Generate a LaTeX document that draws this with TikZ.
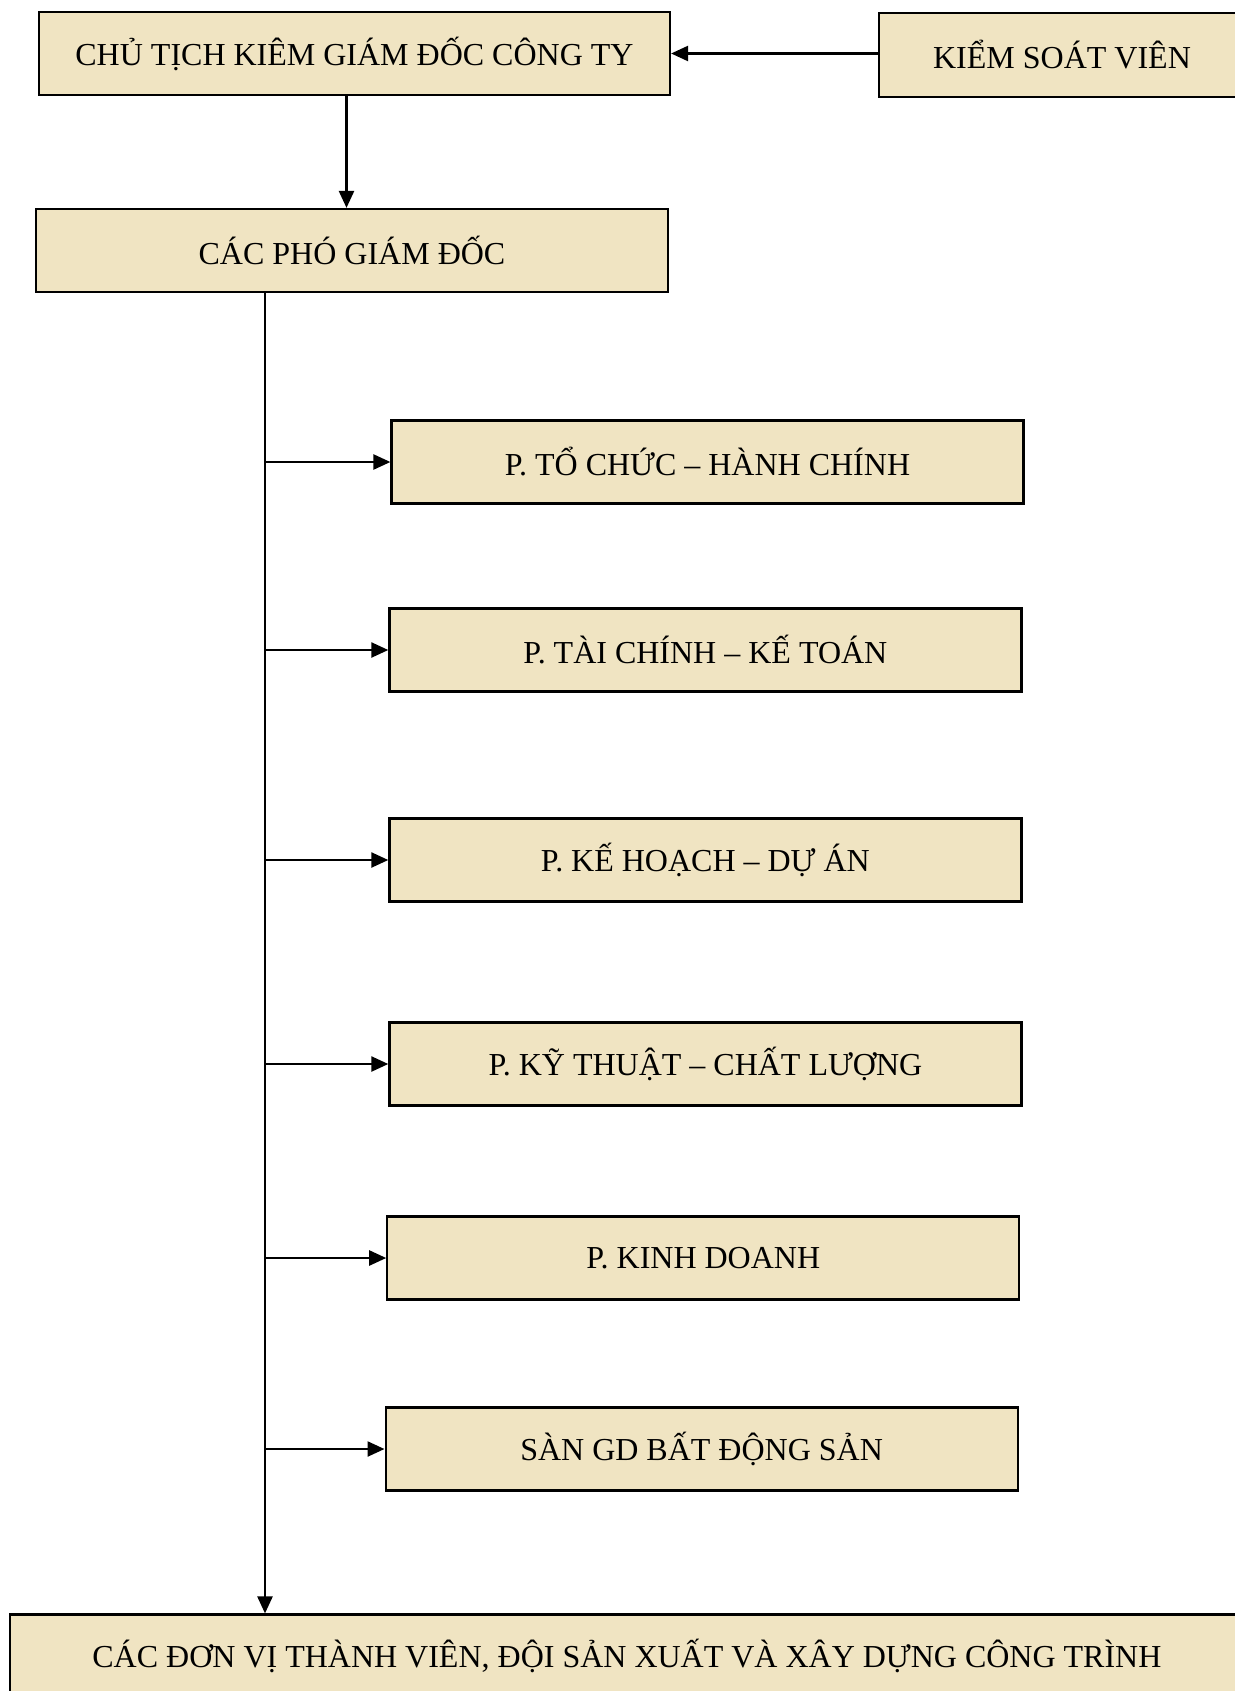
\documentclass[tikz,border=0pt]{standalone}
\usepackage{fontspec}
\setmainfont{Liberation Serif}
\usetikzlibrary{arrows.meta}
\definecolor{parch}{RGB}{240,228,194}
\tikzset{
  orgbox/.style={draw=black, line width=1.1pt, fill=parch, rectangle,
    minimum width=316pt, minimum height=41.5pt, inner sep=0pt,
    font=\fontsize{16}{19}\selectfont},
  link/.style={line width=1.2pt, -{Triangle[length=8.5pt,width=7.5pt]}}
}
\begin{document}
\begin{tikzpicture}[x=0.5pt,y=-0.5pt]
\useasboundingbox (0,0) rectangle (1235,1691);
\clip (0,0) rectangle (1235,1691);
\fill[white] (0,0) rectangle (1235,1691);
\node[orgbox, minimum width=315.5pt] (ct) at (354.5,53.5) {CHỦ TỊCH KIÊM GIÁM ĐỐC CÔNG TY};
\node[orgbox, minimum width=183pt, minimum height=42pt] (ksv) at (1062,55) {KIỂM SOÁT VIÊN};
\node[orgbox] (pgd) at (352,250.5) {CÁC PHÓ GIÁM ĐỐC};
\node[orgbox] (b1) at (707.5,462) {P. TỔ CHỨC – HÀNH CHÍNH};
\node[orgbox] (b2) at (705.4,650) {P. TÀI CHÍNH – KẾ TOÁN};
\node[orgbox] (b3) at (705.4,860) {P. KẾ HOẠCH – DỰ ÁN};
\node[orgbox] (b4) at (705.4,1064) {P. KỸ THUẬT – CHẤT LƯỢNG};
\node[orgbox] (b5) at (703.3,1258) {P. KINH DOANH};
\node[orgbox] (b6) at (701.6,1449) {SÀN GD BẤT ĐỘNG SẢN};
\node[orgbox, minimum width=617pt] (dv) at (627,1656) {CÁC ĐƠN VỊ THÀNH VIÊN, ĐỘI SẢN XUẤT VÀ XÂY DỰNG CÔNG TRÌNH};
% connectors
\draw[link] (ct.east -| ksv.west) -- (ct.east);
\coordinate (ctdown) at ([xshift=-4pt]ct.south);
\draw[link] (ctdown) -- (ctdown |- pgd.north);
\coordinate (trunk) at (265,292);
\draw[link] (trunk) -- (trunk |- dv.north);
\foreach \b in {b1,b2,b3,b4,b5,b6}{
  \draw[link] (trunk |- \b.west) -- (\b.west);
}
\end{tikzpicture}
\end{document}
